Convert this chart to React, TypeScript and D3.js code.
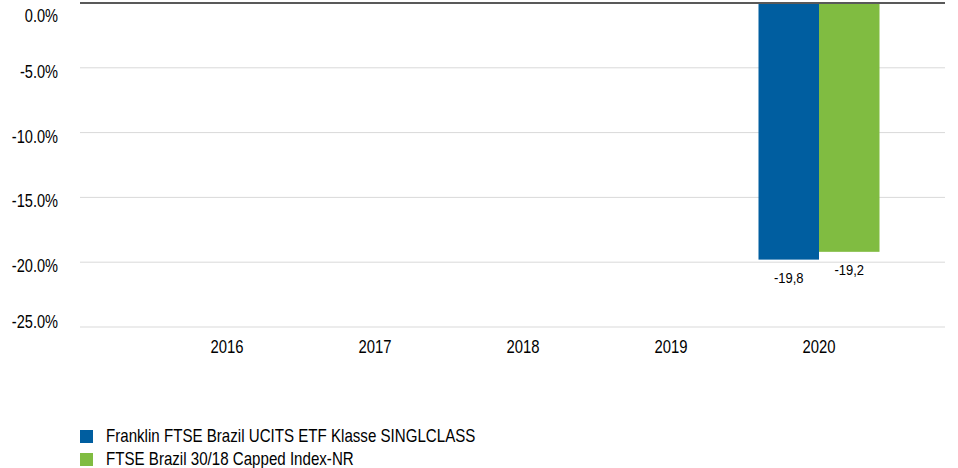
import React from "react";
import * as d3 from "d3";

const categories = ["2016", "2017", "2018", "2019", "2020"];
const seriesNames = [
  "Franklin FTSE Brazil UCITS ETF Klasse SINGLCLASS",
  "FTSE Brazil 30/18 Capped Index-NR",
];
const fundValues: (number | null)[] = [null, null, null, null, -19.8];
const indexValues: (number | null)[] = [null, null, null, null, -19.2];
const yTicks = [0, -5, -10, -15, -20, -25];
const colors = ["#005ea0", "#80bc41"];

const W = 958;
const H = 468;
const FONT = "'Liberation Sans', Arial, sans-serif";

function NText({
  x,
  y,
  sx,
  size,
  anchor,
  children,
}: {
  x: number;
  y: number;
  sx: number;
  size: number;
  anchor?: string;
  children: React.ReactNode;
}) {
  return (
    <text
      transform={`translate(${x},${y}) scale(${sx},1)`}
      textAnchor={anchor || "start"}
      fontSize={size}
      fill="#000"
    >
      {children}
    </text>
  );
}

export default function App() {
  const y = d3.scaleLinear().domain([0, -25]).range([3, 327]);
  const x = d3.scaleBand().domain(categories).range([153, 893]).padding(0);
  const barW = 60.5;
  const series = [fundValues, indexValues];
  const fmt = (v: number) => v.toFixed(1).replace(".", ",");
  const labelY = (t: number) => Math.min(321, Math.max(15, y(t) + 3.5));

  return (
    <svg
      width={W}
      height={H}
      style={{ position: "absolute", left: 0, top: 0, background: "#fff" }}
      fontFamily={FONT}
    >
      {yTicks.map((t) => (
        <g key={t}>
          {t !== 0 && (
            <line x1={80} x2={945} y1={y(t)} y2={y(t)} stroke="#d9d9d9" strokeWidth={1} />
          )}
          <NText x={58} y={labelY(t) + 6.5} sx={0.81} size={18} anchor="end">
            {t.toFixed(1) + "%"}
          </NText>
        </g>
      ))}
      {categories.map((c) => (
        <NText
          key={c}
          x={(x(c) as number) + x.bandwidth() / 2}
          y={353}
          sx={0.825}
          size={18}
          anchor="middle"
        >
          {c}
        </NText>
      ))}
      {series.map((vals, si) =>
        vals.map((v, i) => {
          if (v == null) return null;
          const cx = (x(categories[i]) as number) + x.bandwidth() / 2;
          const bx = cx - barW + si * barW;
          return (
            <g key={`${si}-${i}`}>
              <rect x={bx} y={y(0)} width={barW} height={y(v) - y(0)} fill={colors[si]} />
              <NText x={bx + barW / 2} y={y(v) + 23.5} sx={0.84} size={15.5} anchor="middle">
                {fmt(v)}
              </NText>
            </g>
          );
        })
      )}
      <line x1={80} x2={945} y1={y(0)} y2={y(0)} stroke="#595959" strokeWidth={2} />
      {seriesNames.map((n, i) => (
        <g key={n}>
          <rect x={80} y={430 + i * 23} width={13} height={13} fill={colors[i]} />
          <NText x={106} y={442 + i * 22.5} sx={0.84} size={18}>
            {n}
          </NText>
        </g>
      ))}
    </svg>
  );
}
